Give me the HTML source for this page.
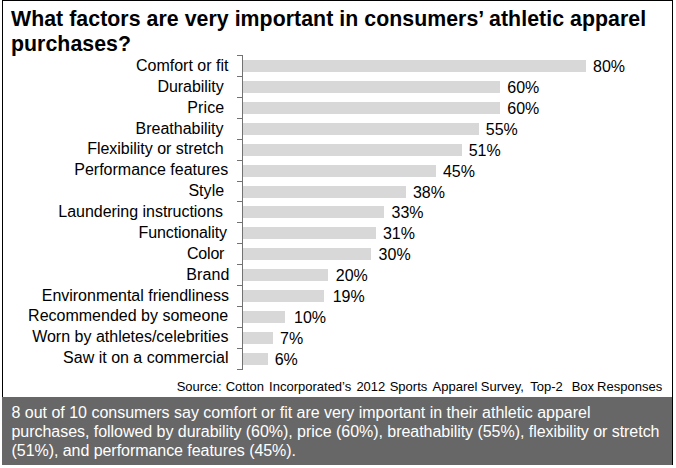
<!DOCTYPE html>
<html><head><meta charset="utf-8"><style>
*{margin:0;padding:0;box-sizing:border-box}
html,body{width:676px;height:468px;background:#fff;overflow:hidden}
body{position:relative;font-family:"Liberation Sans",sans-serif;color:#000}
.frame{position:absolute;left:2px;top:0;width:671px;height:465px;border:1px solid #000;border-bottom:none}
.title{position:absolute;left:11px;top:7px;font-weight:bold;font-size:21.3px;line-height:25.3px;letter-spacing:0.05px;white-space:nowrap}
.axis{position:absolute;left:242px;top:55px;width:1px;background:#727272}
.tick{position:absolute;left:237px;width:5px;height:1px;background:#727272}
.bar{position:absolute;left:243px;height:12px;background:#d8d8d8}
.cl{position:absolute;font-size:16px;line-height:20px;height:20px;white-space:pre;text-align:right;color:#000}
.vl{position:absolute;font-size:16px;line-height:20px;height:20px;white-space:pre;color:#000}
.src{position:absolute;top:379px;font-size:13px;line-height:16px;white-space:pre;color:#000}
.foot{position:absolute;left:2px;top:397px;width:670px;height:68px;background:#676767}
.ft{position:absolute;left:11.5px;top:403px;font-size:16px;line-height:19.1px;color:#fff;white-space:pre;letter-spacing:0px}
</style></head><body>
<div class="frame"></div>
<div class="title">What factors are very important in consumers’ athletic apparel<br>purchases?</div>
<div class="axis" style="height:315px"></div>
<div class="tick" style="top:55px"></div><div class="tick" style="top:76px"></div><div class="tick" style="top:97px"></div><div class="tick" style="top:118px"></div><div class="tick" style="top:139px"></div><div class="tick" style="top:160px"></div><div class="tick" style="top:181px"></div><div class="tick" style="top:201px"></div><div class="tick" style="top:222px"></div><div class="tick" style="top:243px"></div><div class="tick" style="top:264px"></div><div class="tick" style="top:285px"></div><div class="tick" style="top:306px"></div><div class="tick" style="top:327px"></div><div class="tick" style="top:348px"></div><div class="tick" style="top:369px"></div>
<div class="bar" style="top:60px;width:343.00px"></div><div class="cl" style="right:447.60px;top:56.00px;letter-spacing:0px">Comfort or fit</div><div class="vl" style="left:593.00px;top:57.00px">80%</div>
<div class="bar" style="top:81px;width:257.25px"></div><div class="cl" style="right:448.00px;top:76.86px;letter-spacing:-0.05px">Durability </div><div class="vl" style="left:507.25px;top:77.92px">60%</div>
<div class="bar" style="top:102px;width:257.25px"></div><div class="cl" style="right:447.00px;top:97.72px;letter-spacing:0.15px">Price </div><div class="vl" style="left:507.25px;top:98.84px">60%</div>
<div class="bar" style="top:123px;width:235.81px"></div><div class="cl" style="right:448.00px;top:118.58px;letter-spacing:0px">Breathability </div><div class="vl" style="left:485.81px;top:119.76px">55%</div>
<div class="bar" style="top:144px;width:218.66px"></div><div class="cl" style="right:448.00px;top:139.44px;letter-spacing:-0.025px">Flexibility or stretch </div><div class="vl" style="left:468.66px;top:140.68px">51%</div>
<div class="bar" style="top:165px;width:192.94px"></div><div class="cl" style="right:447.80px;top:160.30px;letter-spacing:0.005px">Performance features</div><div class="vl" style="left:442.94px;top:161.60px">45%</div>
<div class="bar" style="top:186px;width:162.92px"></div><div class="cl" style="right:447.30px;top:181.16px;letter-spacing:0.05px">Style </div><div class="vl" style="left:412.92px;top:182.52px">38%</div>
<div class="bar" style="top:206px;width:141.49px"></div><div class="cl" style="right:448.50px;top:202.02px;letter-spacing:-0.03px">Laundering instructions </div><div class="vl" style="left:391.49px;top:203.44px">33%</div>
<div class="bar" style="top:227px;width:132.91px"></div><div class="cl" style="right:449.00px;top:222.88px;letter-spacing:-0.1px">Functionality</div><div class="vl" style="left:382.91px;top:224.36px">31%</div>
<div class="bar" style="top:248px;width:127.55px"></div><div class="cl" style="right:447.50px;top:243.74px;letter-spacing:-0.2px">Color </div><div class="vl" style="left:378.62px;top:245.28px">30%</div>
<div class="bar" style="top:269px;width:84.85px"></div><div class="cl" style="right:446.60px;top:264.60px;letter-spacing:0.1px">Brand</div><div class="vl" style="left:335.75px;top:266.20px">20%</div>
<div class="bar" style="top:290px;width:81.46px"></div><div class="cl" style="right:447.10px;top:286.46px;letter-spacing:-0.02px">Environmental friendliness</div><div class="vl" style="left:332.66px;top:287.12px">19%</div>
<div class="bar" style="top:311px;width:41.89px"></div><div class="cl" style="right:447.80px;top:306.32px;letter-spacing:0px">Recommended by someone</div><div class="vl" style="left:294.07px;top:308.04px">10%</div>
<div class="bar" style="top:332px;width:30.01px"></div><div class="cl" style="right:447.60px;top:327.18px;letter-spacing:0px">Worn by athletes/celebrities</div><div class="vl" style="left:280.01px;top:328.96px">7%</div>
<div class="bar" style="top:353px;width:24.65px"></div><div class="cl" style="right:447.50px;top:348.04px;letter-spacing:0px">Saw it on a commercial</div><div class="vl" style="left:274.65px;top:349.88px">6%</div>
<div class="src" style="left:176.70px">Source:</div><div class="src" style="left:225.70px">Cotton</div><div class="src" style="left:269.10px">Incorporated’s</div><div class="src" style="left:356.40px">2012</div><div class="src" style="left:389.70px">Sports</div><div class="src" style="left:432.60px">Apparel</div><div class="src" style="left:480.80px">Survey,</div><div class="src" style="left:530.30px">Top-2</div><div class="src" style="left:571.70px">Box</div><div class="src" style="left:597.10px">Responses</div>
<div class="foot"></div>
<div class="ft" style="top:403.00px;letter-spacing:-0.01px">8 out of 10 consumers say comfort or fit are very important in their athletic apparel</div>
<div class="ft" style="top:422.10px;letter-spacing:-0.04px">purchases, followed by durability (60%), price (60%), breathability (55%), flexibility or stretch</div>
<div class="ft" style="top:441.20px;letter-spacing:-0.05px">(51%), and performance features (45%).</div>
</body></html>
